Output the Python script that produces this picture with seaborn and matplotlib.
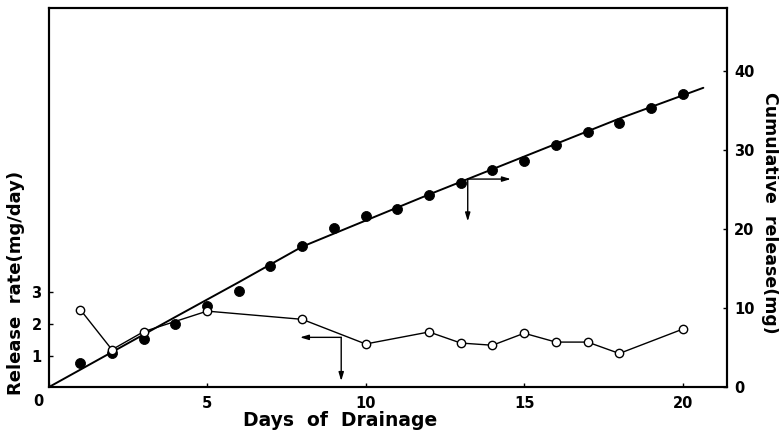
import matplotlib
matplotlib.use('Agg')
import matplotlib.pyplot as plt
import seaborn as sns

# cumulative release (mg), filled dots, right axis
cum_days = list(range(1, 21))
cum_release = [3.1, 4.3, 6.1, 7.95, 10.3, 12.2, 15.4, 17.9, 20.2, 21.7,
               22.6, 24.3, 25.9, 27.5, 28.6, 30.7, 32.3, 33.5, 35.3, 37.1]

# fitted curve through the cumulative data
fit_days = [0, 2, 4, 6, 8, 10, 12, 14, 16, 18, 20.65]
fit_release = [0, 4.45, 8.9, 13.3, 17.8, 21.1, 24.4, 27.6, 30.8, 34.0, 37.9]

# release rate (mg/day), open circles, left axis
rate_days = [1, 2, 3, 5, 8, 10, 12, 13, 14, 15, 16, 17, 18, 20]
rate = [2.46, 1.19, 1.76, 2.41, 2.15, 1.37, 1.75, 1.40, 1.33, 1.71,
        1.43, 1.43, 1.07, 1.84]

x_ticks = [0, 5, 10, 15, 20]
x_tick_labels = ['', '5', '10', '15', '20']
left_ticks = [1, 2, 3]
right_ticks = [0, 10, 20, 30, 40]

sns.set_style('ticks')
plt.rcParams['font.family'] = ['DejaVu Sans']
plt.rcParams['font.weight'] = 'bold'
for key in ('text.color', 'axes.labelcolor', 'xtick.color', 'ytick.color'):
    plt.rcParams[key] = 'black'

fig = plt.figure(figsize=(7.79, 4.32), dpi=100)
ax = fig.add_axes([0.0623, 0.1035, 0.8711, 0.878])
ax2 = ax.twinx()

# cumulative on the right axis
sns.lineplot(x=fit_days, y=fit_release, ax=ax2, color='black', lw=1.4, sort=False)
sns.scatterplot(x=cum_days, y=cum_release, ax=ax2, color='black', s=52,
                edgecolor='black', zorder=3)

# release rate on the left axis
ax.set_zorder(ax2.get_zorder() + 1)
ax.patch.set_visible(False)
sns.lineplot(x=rate_days, y=rate, ax=ax, color='black', lw=1.0, marker='o',
             markersize=6, markerfacecolor='white', markeredgecolor='black',
             markeredgewidth=1.0)

ax.set_xlim(0, 21.4)
ax.set_ylim(0, 12)
ax2.set_ylim(0, 48)

ax.set_xticks(x_ticks)
ax.set_xticklabels(x_tick_labels)
ax.set_yticks(left_ticks)
ax2.set_yticks(right_ticks)

for a in (ax, ax2):
    for sp in a.spines.values():
        sp.set_linewidth(1.5)
        sp.set_color('black')
    a.set_xlabel('')
    a.set_ylabel('')

ax.tick_params(axis='x', direction='in', length=3, width=1, pad=6,
               labelsize=10.5, colors='black')
ax.tick_params(axis='y', direction='in', length=3, width=1, pad=5,
               labelsize=10.5, colors='black')
ax2.tick_params(axis='y', direction='in', length=3, width=1, pad=5,
                labelsize=10.5, colors='black')
for lbl in ax.get_xticklabels() + ax.get_yticklabels() + ax2.get_yticklabels():
    lbl.set_fontweight('bold')

# shared corner zero
ax.annotate('0', xy=(0, 0), xytext=(-7, -10), textcoords='offset points',
            ha='center', va='center', fontsize=10.5, fontweight='bold',
            color='black')

# arrows showing which axis belongs to which series
arrow = dict(arrowstyle='-|>,head_length=0.5,head_width=0.15', color='black',
             lw=1.0, shrinkA=0, shrinkB=0)
rate_corner = (9.23, 1.58)
ax.annotate('', xy=(7.93, 1.58), xytext=rate_corner, arrowprops=arrow)
ax.annotate('', xy=(9.23, 0.2), xytext=rate_corner, arrowprops=arrow)
cum_corner = (13.22, 26.35)
ax2.annotate('', xy=(14.58, 26.35), xytext=cum_corner, arrowprops=arrow)
ax2.annotate('', xy=(13.22, 21.0), xytext=cum_corner, arrowprops=arrow)

fig.text(340 / 779, 1 - 420 / 432, 'Days  of  Drainage', ha='center',
         va='center', fontsize=13.5, fontweight='bold', color='black')
fig.text(16 / 779, 1 - 283 / 432, 'Release  rate(mg/day)', rotation=90,
         ha='center', va='center', fontsize=13, fontweight='bold', color='black')
fig.text(770 / 779, 1 - 213 / 432, 'Cumulative  release(mg)', rotation=-90,
         ha='center', va='center', fontsize=12.5, fontweight='bold', color='black')

fig.savefig('out.png', dpi=100)
plt.close(fig)
